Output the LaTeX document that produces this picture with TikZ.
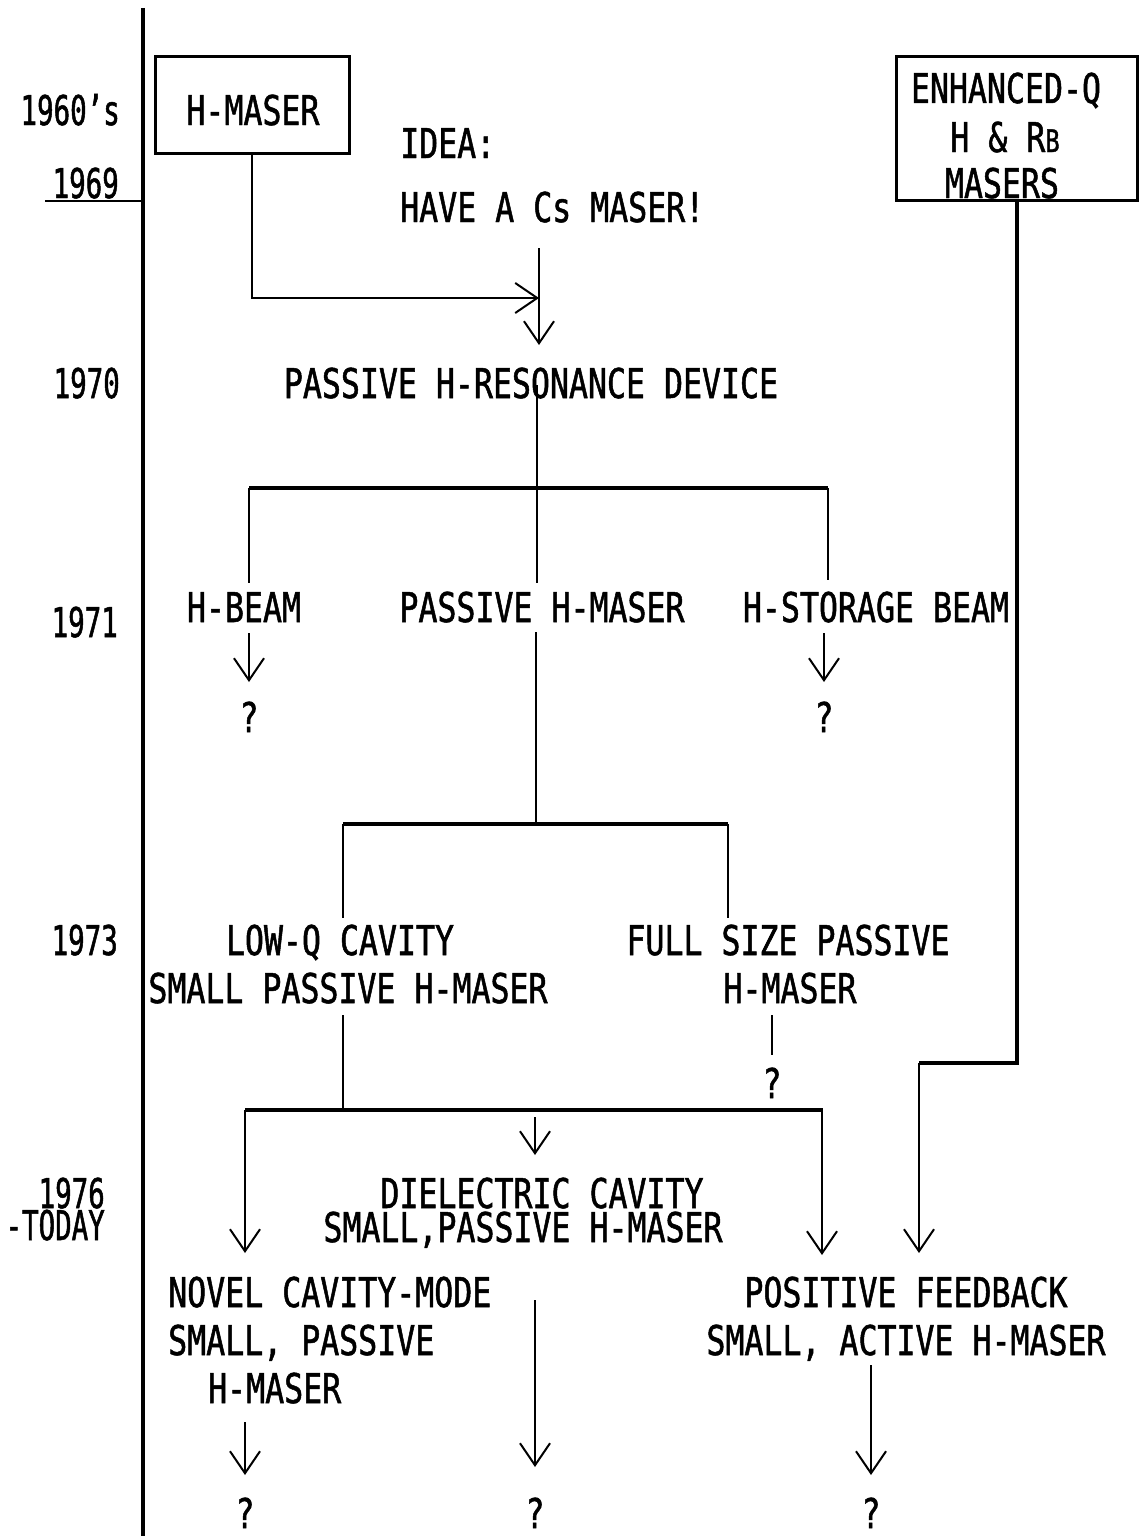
\documentclass[tikz,border=0pt]{standalone}
\usepackage{fontspec}
\usetikzlibrary{arrows.meta}
\newfontfamily\lblfam{DejaVu Sans Mono}[FakeStretch=0.77,FakeBold=1.2]
\newfontfamily\yrfam{DejaVu Sans Mono}[FakeStretch=0.67,FakeBold=1.2]
\newcommand\lblfont{\lblfam\fontsize{41}{47}\selectfont}
\newcommand\yrfont{\yrfam\fontsize{41}{47}\selectfont}
\newcommand\smallB{{\lblfam\fontsize{31}{31}\selectfont B}}
\begin{document}
\begin{tikzpicture}[x=1pt,y=-1pt,
  txt/.style={font=\lblfont,inner sep=0pt,anchor=base},
  txtw/.style={font=\lblfont,inner sep=0pt,anchor=base west},
  yr/.style={font=\yrfont,inner sep=0pt,anchor=base east},
  boxnode/.style={draw,line width=3pt,inner sep=0pt},
  heavy/.style={line width=3.4pt},
  conn/.style={line width=2.6pt},
  lite/.style={line width=2pt},
  arr/.style={line width=2pt,-{Straight Barb[length=22pt,width=30pt]}},
  arrh/.style={line width=2.6pt,-{Straight Barb[length=22pt,width=30pt,line width=2pt]}},
]
\useasboundingbox (0,0) rectangle (1139,1536);
\fill[white] (0,0) rectangle (1139,1536);

% ---- timeline ----
\coordinate (tltop) at (143,8);
\coordinate (tlbot) at (143,1536);
\draw[heavy] (tltop) -- (tlbot);
\node[yr] (y60) at (120,125) {1960’s};
\node[yr] (y69) at (119,198) {1969};
\coordinate (ul69a) at (45,201);
\coordinate (ul69b) at (143,201);
\draw[conn] (ul69a) -- (ul69b);
\node[yr] (y70) at (120,398) {1970};
\node[yr] (y71) at (118,637) {1971};
\node[yr] (y73) at (118,955) {1973};
\node[yr] (y76) at (105,1208) {1976};
\node[yr] (ytoday) at (105,1240) {-TODAY};

% ---- boxes ----
\node[boxnode,minimum width=194pt,minimum height=96pt] (hmaser) at (252,105) {};
\node[txt] (hmasertxt) at (253,125) {H-MASER};
\node[boxnode,minimum width=241pt,minimum height=143pt] (enh) at (1016.5,128.5) {};
\node[txt] (enh1) at (1006,103) {ENHANCED-Q};
\node[txt] (enh2) at (1005,152) {H \& R\smallB};
\node[txt] (enh3) at (1002,198) {MASERS};

% ---- idea ----
\node[txtw] (idea1) at (400,158) {IDEA:};
\node[txtw] (idea2) at (400,222) {HAVE A Cs MASER!};
\coordinate (cstop) at (539,248);
\coordinate (csjoin) at (539,298);
\coordinate (csbot) at (539,345);
\draw[arrh] (hmaser.south) |- (csjoin);
\draw[arr] (cstop) -- (csbot);

% ---- 1970 ----
\node[txt] (phrd) at (531,398) {PASSIVE H-RESONANCE DEVICE};
\coordinate (b1l) at (249,488);
\coordinate (b1m) at (537,488);
\coordinate (b1r) at (828,488);
\draw[conn] (537,385) -- (b1m);
\draw[heavy] (b1l) -- (b1r);
\coordinate (hbeamtop) at (249,583);
\coordinate (pmtop) at (537,583);
\coordinate (hsbtop) at (828,580);
\draw[conn] (b1l) -- (hbeamtop);
\draw[lite] (b1m) -- (pmtop);
\draw[lite] (b1r) -- (hsbtop);

% ---- 1971 ----
\node[txt] (hbeam) at (244,622) {H-BEAM};
\node[txt] (pmaser) at (542,622) {PASSIVE H-MASER};
\node[txt] (hsb) at (876,622) {H-STORAGE BEAM};
\coordinate (hba) at (249,633);
\coordinate (hbb) at (249,682);
\coordinate (hsa) at (824,633);
\coordinate (hsbb) at (824,682);
\draw[arr] (hba) -- (hbb);
\draw[arr] (hsa) -- (hsbb);
\node[txt] (q1) at (249,732) {?};
\node[txt] (q2) at (824,732) {?};
\coordinate (pmbot) at (536,632);
\coordinate (b2m) at (536,824);
\draw[lite] (pmbot) -- (b2m);
\coordinate (b2l) at (343,824);
\coordinate (b2r) at (728,824);
\draw[heavy] (b2l) -- (b2r);
\coordinate (lowqtop) at (343,918);
\coordinate (fulltop) at (728,918);
\draw[conn] (b2l) -- (lowqtop);
\draw[conn] (b2r) -- (fulltop);

% ---- 1973 ----
\node[txt] (lowq1) at (340,955) {LOW-Q CAVITY};
\node[txt] (lowq2) at (348,1003) {SMALL PASSIVE H-MASER};
\node[txt] (full1) at (788,955) {FULL SIZE PASSIVE};
\node[txt] (full2) at (790,1003) {H-MASER};
\coordinate (lowqbot) at (343,1015);
\coordinate (b3j) at (343,1110);
\draw[lite] (lowqbot) -- (b3j);
\coordinate (fullbot) at (772,1015);
\coordinate (fullend) at (772,1055);
\draw[lite] (fullbot) -- (fullend);
\node[txt] (q3) at (772,1098) {?};
\coordinate (b3l) at (245,1110);
\coordinate (b3r) at (823,1110);
\draw[heavy] (b3l) -- (b3r);

% ---- enhanced line ----
\coordinate (e1) at (1017,1063);
\coordinate (e2) at (919,1063);
\coordinate (e3) at (919,1253);
\draw[heavy] (enh.south -| 1017,0) -- (e1) -- (e2);
\draw[arrh] (e2) -- (e3);

% ---- 1976 arrows ----
\coordinate (novtop) at (245,1253);
\coordinate (dieltop) at (535,1117);
\coordinate (dielend) at (535,1155);
\coordinate (posl) at (822,1110);
\coordinate (postop) at (822,1255);
\draw[arr] (b3l) -- (novtop);
\draw[arr] (dieltop) -- (dielend);
\draw[arr] (posl) -- (postop);

% ---- 1976 texts ----
\node[txt] (diel1) at (542,1208) {DIELECTRIC CAVITY};
\node[txt] (diel2) at (523,1242) {SMALL,PASSIVE H-MASER};
\node[txtw] (nov1) at (168,1307) {NOVEL CAVITY-MODE};
\node[txtw] (nov2) at (168,1355) {SMALL, PASSIVE};
\node[txtw] (nov3) at (208,1403) {H-MASER};
\node[txt] (pos1) at (906,1307) {POSITIVE FEEDBACK};
\node[txt] (pos2) at (906,1355) {SMALL, ACTIVE H-MASER};

% ---- final arrows ----
\coordinate (fa1) at (245,1422);
\coordinate (fa1e) at (245,1475);
\coordinate (fa2) at (535,1300);
\coordinate (fa2e) at (535,1467);
\coordinate (fa3) at (871,1365);
\coordinate (fa3e) at (871,1475);
\draw[arr] (fa1) -- (fa1e);
\draw[arr] (fa2) -- (fa2e);
\draw[arr] (fa3) -- (fa3e);
\node[txt] (q4) at (245,1528) {?};
\node[txt] (q5) at (535,1528) {?};
\node[txt] (q6) at (871,1528) {?};
\end{tikzpicture}
\end{document}
